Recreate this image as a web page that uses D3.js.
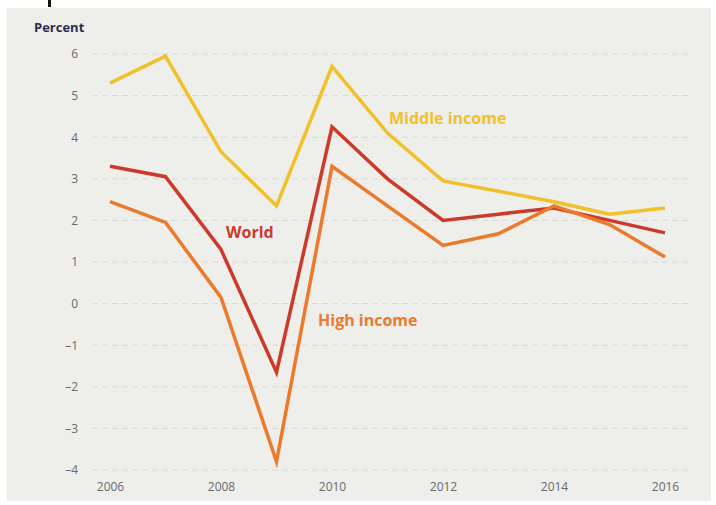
<!DOCTYPE html>
<html>
<head>
<meta charset="utf-8">
<script src="https://cdn.jsdelivr.net/npm/d3@7"></script>
<style>
  html, body { margin: 0; padding: 0; background: #ffffff; }
  svg { display: block; }
  text { font-family: "Open Sans", "Liberation Sans", sans-serif; }
</style>
</head>
<body>
<div id="chart"></div>
<script>
// Annual growth, percent
const years = [2006, 2007, 2008, 2009, 2010, 2011, 2012, 2013, 2014, 2015, 2016];
const middleIncome = [5.3, 5.95, 3.65, 2.35, 5.7, 4.1, 2.95, 2.7, 2.45, 2.15, 2.3];
const world = [3.3, 3.05, 1.3, -1.65, 4.25, 3.0, 2.0, 2.15, 2.3, 2.0, 1.7];
const highIncome = [2.45, 1.95, 0.15, -3.8, 3.3, 2.35, 1.4, 1.68, 2.35, 1.9, 1.12];
const yTicks = [6, 5, 4, 3, 2, 1, 0, -1, -2, -3, -4];
const xTickYears = [2006, 2008, 2010, 2012, 2014, 2016];

const W = 716, H = 505;
const svg = d3.select("#chart").append("svg").attr("width", W).attr("height", H);

// panel background
svg.append("rect").attr("x", 7).attr("y", 8).attr("width", 704).attr("height", 493)
  .attr("fill", "#eeeeea");

// small dark tick mark at the top edge
svg.append("rect").attr("x", 48).attr("y", 0).attr("width", 3).attr("height", 7)
  .attr("fill", "#111");

const x = d3.scaleLinear().domain([2006, 2016]).range([110, 665]);
const y = d3.scaleLinear().domain([-4, 6]).range([470, 54]);

// unit label
svg.append("text").attr("x", 34).attr("y", 32).attr("font-size", 13)
  .attr("font-weight", "bold").attr("fill", "#2b2d52").text("Percent");

// gridlines
svg.append("g").selectAll("line").data(yTicks).join("line")
  .attr("x1", 92).attr("x2", 690)
  .attr("y1", d => y(d)).attr("y2", d => y(d))
  .attr("stroke", "#d9d9d5").attr("stroke-width", 1)
  .attr("stroke-dasharray", "6,4");

// y axis labels
const yAxis = d3.axisLeft(y).tickValues(yTicks).tickSize(0).tickPadding(0)
  .tickFormat(d => d < 0 ? "\u2013" + Math.abs(d) : d);
const gy = svg.append("g").attr("transform", "translate(78,0)").call(yAxis);
gy.select(".domain").remove();
gy.selectAll("text").attr("font-size", 12).attr("fill", "#6a6a6a")
  .attr("font-family", "'Open Sans', 'Liberation Sans', sans-serif");

// x axis labels
const xAxis = d3.axisBottom(x).tickValues(xTickYears).tickSize(0).tickPadding(0)
  .tickFormat(d3.format("d"));
const gx = svg.append("g").attr("transform", "translate(0,482)").call(xAxis);
gx.select(".domain").remove();
gx.selectAll("text").attr("font-size", 12).attr("fill", "#6a6a6a")
  .attr("font-family", "'Open Sans', 'Liberation Sans', sans-serif");

const line = d3.line().x((d, i) => x(years[i])).y(d => y(d));

const series = [
  { name: "Middle income", values: middleIncome, color: "#f0c12a", lx: 389, ly: 124 },
  { name: "World", values: world, color: "#cc3a2b", lx: 226, ly: 238 },
  { name: "High income", values: highIncome, color: "#ec7a2c", lx: 318, ly: 326 }
];

svg.append("g").selectAll("path").data(series).join("path")
  .attr("d", d => line(d.values))
  .attr("fill", "none").attr("stroke", d => d.color)
  .attr("stroke-width", 3.5).attr("stroke-linejoin", "miter");

svg.append("g").selectAll("text").data(series).join("text")
  .attr("x", d => d.lx).attr("y", d => d.ly)
  .attr("font-size", 16).attr("font-weight", "bold")
  .attr("fill", d => d.color).text(d => d.name);
</script>
</body>
</html>
